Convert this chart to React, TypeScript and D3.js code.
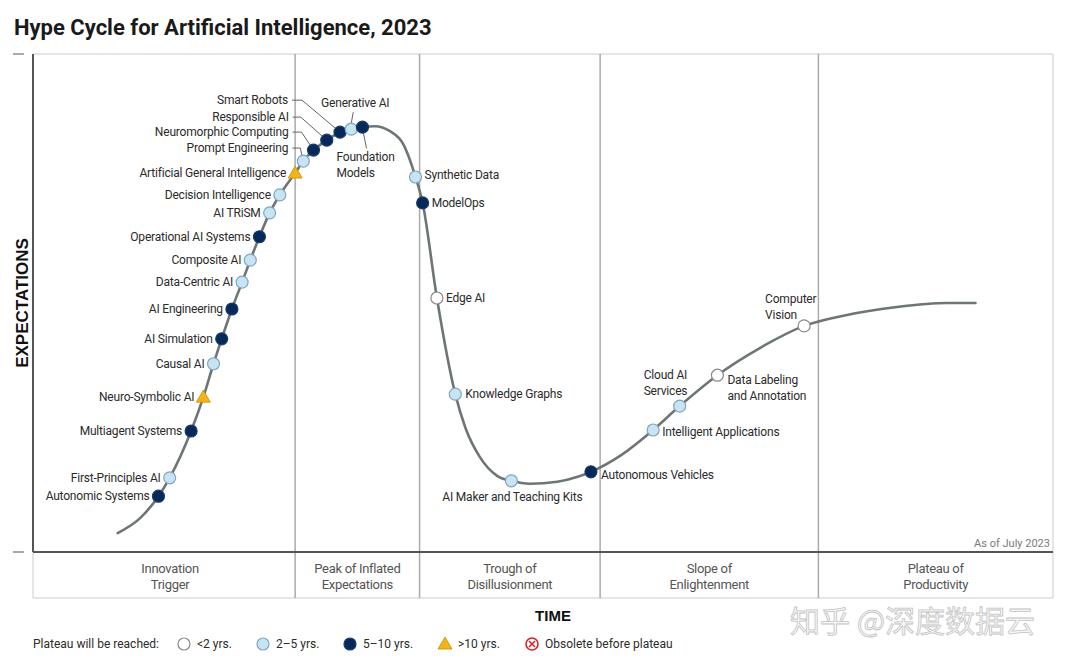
import React from "react";
import * as d3 from "d3";

// ---------- DATA ----------
const title = "Hype Cycle for Artificial Intelligence, 2023";

// phases: label lines and their end on the time axis (0-100)
const phaseNames = [
  ["Innovation", "Trigger"],
  ["Peak of Inflated", "Expectations"],
  ["Trough of", "Disillusionment"],
  ["Slope of", "Enlightenment"],
  ["Plateau of", "Productivity"],
];
const phaseEnds = [25.7, 37.9, 55.6, 77.0, 100];

// technologies: name, time (0-100), expectation (0-100), horizon
type Horizon = "lt2" | "2to5" | "5to10" | "gt10";
const techNames = [
  "Autonomic Systems", "First-Principles AI", "Multiagent Systems", "Neuro-Symbolic AI",
  "Causal AI", "AI Simulation", "AI Engineering", "Data-Centric AI", "Composite AI",
  "Operational AI Systems", "AI TRiSM", "Decision Intelligence",
  "Artificial General Intelligence", "Prompt Engineering", "Neuromorphic Computing",
  "Responsible AI", "Smart Robots", "Generative AI", "Foundation Models",
  "Synthetic Data", "ModelOps", "Edge AI", "Knowledge Graphs",
  "AI Maker and Teaching Kits", "Autonomous Vehicles", "Intelligent Applications",
  "Cloud AI Services", "Data Labeling and Annotation", "Computer Vision",
];
const techTime = [
  12.3, 13.4, 15.5, 16.7, 17.7, 18.5, 19.5, 20.5, 21.3, 22.2, 23.2, 24.2,
  25.7, 26.5, 27.5, 28.8, 30.1, 31.2, 32.3,
  37.5, 38.2, 39.6, 41.4, 46.9, 54.7, 60.8, 63.4, 67.1, 75.6,
];
const techExpect = [
  11.2, 14.9, 24.3, 31.1, 37.8, 42.8, 48.8, 54.2, 58.6, 63.3, 68.1, 71.7,
  76.1, 78.5, 80.7, 82.7, 84.3, 84.9, 85.3,
  75.3, 70.1, 51.0, 31.7, 14.3, 16.1, 24.5, 29.3, 35.5, 45.4,
];
const techHorizon: Horizon[] = [
  "5to10", "2to5", "5to10", "gt10", "2to5", "5to10", "5to10", "2to5", "2to5",
  "5to10", "2to5", "2to5", "gt10", "2to5", "5to10", "5to10", "5to10", "2to5", "5to10",
  "2to5", "5to10", "lt2", "2to5", "2to5", "5to10", "2to5", "2to5", "lt2", "lt2",
];

// extra points of the curve between the technologies
const curveExtraTime = [8.3, 10.5, 33.5, 35.0, 36.3, 42.4, 43.8, 45.5, 48.7, 51.4, 53.4, 57.7, 71.3, 79.8, 84.7, 89.6, 92.4];
const curveExtraExpect = [3.8, 6.8, 85.5, 84.5, 81.9, 24.9, 19.1, 15.3, 13.7, 14.1, 15.1, 19.5, 41.0, 47.6, 49.2, 50.0, 50.0];

const legendTitle = "Plateau will be reached:";
const legendKeys: (Horizon | "obsolete")[] = ["lt2", "2to5", "5to10", "gt10", "obsolete"];
const legendLabels = ["<2 yrs.", "2\u20135 yrs.", "5\u201310 yrs.", ">10 yrs.", "Obsolete before plateau"];

const asOf = "As of July 2023";
const yAxisTitle = "EXPECTATIONS";
const xAxisTitle = "TIME";
const watermark = "知乎 @深度数据云";

// ---------- LAYOUT / STYLE ----------
const W = 1080, H = 665;
const plot = { left: 33, right: 1053, top: 54, bottom: 552, band: 598 };
const FONT = "Roboto, 'Noto Sans', sans-serif";

const colors = {
  curve: "#6e7577",
  axis: "#555",
  divider: "#ababab",
  border: "#dcdcdc",
  label: "#2b2b2b",
  phase: "#555",
};

const markerStyle: Record<string, { fill: string; stroke: string }> = {
  lt2: { fill: "#ffffff", stroke: "#8a8a8a" },
  "2to5": { fill: "#c8e4f3", stroke: "#7fa6c2" },
  "5to10": { fill: "#06295a", stroke: "#1b3a6b" },
  gt10: { fill: "#f2b41c", stroke: "#c68f00" },
};

type LabelLayout = {
  anchor?: "start" | "middle" | "end";
  dx: number;
  dy: number;
  lines?: string[];
  elbow?: [number, number];
  leaderFrom?: [number, number];
  leaderTo?: [number, number];
};
const leftLabel: LabelLayout = { anchor: "end", dx: -9, dy: 0 };
const rightLabel: LabelLayout = { anchor: "start", dx: 9, dy: 0 };
const labelLayout: Record<string, LabelLayout> = {
  "Prompt Engineering": { anchor: "end", dx: -15, dy: -13, elbow: [-3, -13] },
  "Neuromorphic Computing": { anchor: "end", dx: -25, dy: -18, elbow: [-12, -18] },
  "Responsible AI": { anchor: "end", dx: -38, dy: -23, elbow: [-26, -23] },
  "Smart Robots": { anchor: "end", dx: -52, dy: -32, elbow: [-38, -32] },
  "Generative AI": { anchor: "middle", dx: 4, dy: -26, leaderFrom: [2, -17], leaderTo: [0, -6] },
  "Foundation Models": { anchor: "start", dx: -26, dy: 30, lines: ["Foundation", "Models"], leaderFrom: [1, 6], leaderTo: [4, 21] },
  "Synthetic Data": { anchor: "start", dx: 9, dy: -2 },
  "Knowledge Graphs": { anchor: "start", dx: 10, dy: 0 },
  "AI Maker and Teaching Kits": { anchor: "middle", dx: 1, dy: 16 },
  "Autonomous Vehicles": { anchor: "start", dx: 10, dy: 3 },
  "Intelligent Applications": { anchor: "start", dx: 9, dy: 2 },
  "Cloud AI Services": { anchor: "start", dx: -36, dy: -31, lines: ["Cloud AI", "Services"] },
  "Data Labeling and Annotation": { anchor: "start", dx: 10, dy: 5, lines: ["Data Labeling", "and Annotation"] },
  "Computer Vision": { anchor: "start", dx: -39, dy: -27, lines: ["Computer", "Vision"] },
};
const legendSymbolX = [184, 263, 350, 445, 532];

function Marker({ x, y, kind }: { x: number; y: number; kind: string }) {
  if (kind === "gt10") {
    const s = 7;
    const pts = `${x},${y - s} ${x + s},${y + s * 0.72} ${x - s},${y + s * 0.72}`;
    return <polygon points={pts} fill={markerStyle.gt10.fill} stroke={markerStyle.gt10.stroke} strokeWidth={0.8} />;
  }
  if (kind === "obsolete") {
    const r = 6, k = 3;
    return (
      <g>
        <circle cx={x} cy={y} r={r} fill="#fff" stroke="#d8232a" strokeWidth={1.6} />
        <line x1={x - k} y1={y - k} x2={x + k} y2={y + k} stroke="#d8232a" strokeWidth={1.6} />
        <line x1={x - k} y1={y + k} x2={x + k} y2={y - k} stroke="#d8232a" strokeWidth={1.6} />
      </g>
    );
  }
  const st = markerStyle[kind];
  return <circle cx={x} cy={y} r={6} fill={st.fill} stroke={st.stroke} strokeWidth={1.2} />;
}

export default function App() {
  const x = d3.scaleLinear().domain([0, 100]).range([plot.left, plot.right]);
  const y = d3.scaleLinear().domain([0, 100]).range([plot.bottom, plot.top]);

  const techs = techNames.map((name, i) => ({
    name,
    t: techTime[i],
    e: techExpect[i],
    h: techHorizon[i],
  }));

  const knots: [number, number][] = [
    ...techs.map((d) => [d.t, d.e] as [number, number]),
    ...curveExtraTime.map((t, i) => [t, curveExtraExpect[i]] as [number, number]),
  ].sort((a, b) => a[0] - b[0]);

  const line = d3
    .line<[number, number]>()
    .x((d) => x(d[0]))
    .y((d) => y(d[1]))
    .curve(d3.curveMonotoneX);

  const bounds = [0, ...phaseEnds];
  const innovationIdx = techs.findIndex((d) => d.name === "Artificial General Intelligence");

  return (
    <div style={{ position: "absolute", left: 0, top: 0 }}>
      <svg width={W} height={H} style={{ display: "block", background: "#fff" }} fontFamily={FONT}>
        {/* title */}
        <text x={14} y={35} fontSize={22} fontWeight={700} fill="#1a1a1a" fontFamily={FONT}>
          {title}
        </text>

        {/* frame */}
        <line x1={plot.left} x2={plot.right} y1={plot.top} y2={plot.top} stroke={colors.border} strokeWidth={1.5} />
        <line x1={plot.right} x2={plot.right} y1={plot.top} y2={plot.band} stroke={colors.border} strokeWidth={1.5} />
        <line x1={plot.left} x2={plot.right} y1={plot.band} y2={plot.band} stroke={colors.border} strokeWidth={1.5} />
        <line x1={plot.left} x2={plot.left} y1={plot.bottom} y2={plot.band} stroke={colors.border} strokeWidth={1.5} />

        {/* phase dividers */}
        {phaseEnds.slice(0, -1).map((t, i) => (
          <line key={i} x1={x(t)} x2={x(t)} y1={plot.top} y2={plot.band} stroke={colors.divider} strokeWidth={1.5} />
        ))}

        {/* axes */}
        <line x1={plot.left} x2={plot.left} y1={plot.top} y2={plot.bottom} stroke={colors.axis} strokeWidth={2} />
        <line x1={plot.left} x2={plot.right} y1={plot.bottom} y2={plot.bottom} stroke={colors.axis} strokeWidth={2} />
        {y.domain().map((v, i) => (
          <line key={i} x1={13} x2={24} y1={y(v)} y2={y(v)} stroke="#aaa" strokeWidth={2} />
        ))}

        {/* phase labels */}
        {phaseNames.map((lines, i) => {
          const cx = (x(bounds[i]) + x(bounds[i + 1])) / 2 + (i === 0 ? 6 : 0);
          return (
            <text key={i} x={cx} textAnchor="middle" fontSize={13} fill={colors.phase} letterSpacing={-0.3}>
              {lines.map((l, j) => (
                <tspan key={j} x={cx} y={573 + j * 16}>
                  {l}
                </tspan>
              ))}
            </text>
          );
        })}

        {/* as of */}
        <text x={plot.right - 3} y={547} textAnchor="end" fontSize={11} fill="#7a7a7a">
          {asOf}
        </text>

        {/* curve */}
        <path d={line(knots) || ""} fill="none" stroke={colors.curve} strokeWidth={2.6} strokeLinecap="round" />

        {/* leaders */}
        {techs.map((d) => {
          const L = labelLayout[d.name];
          if (!L) return null;
          const mx = x(d.t), my = y(d.e);
          if (L.elbow) {
            const lx = mx + L.dx + 4;
            const ly = my + L.dy;
            const ex = mx + L.elbow[0];
            const ey = my + L.elbow[1];
            const ang = Math.atan2(ey - my, ex - mx);
            const tx = mx + Math.cos(ang) * 6;
            const ty = my + Math.sin(ang) * 6;
            return <polyline key={d.name} points={`${lx},${ly} ${ex},${ey} ${tx},${ty}`} fill="none" stroke="#666" strokeWidth={1} />;
          }
          if (L.leaderFrom && L.leaderTo) {
            return (
              <line key={d.name} x1={mx + L.leaderFrom[0]} y1={my + L.leaderFrom[1]} x2={mx + L.leaderTo[0]} y2={my + L.leaderTo[1]} stroke="#666" strokeWidth={1} />
            );
          }
          return null;
        })}

        {/* markers */}
        {techs.map((d) => (
          <Marker key={d.name} x={x(d.t)} y={y(d.e)} kind={d.h} />
        ))}

        {/* labels */}
        {techs.map((d, i) => {
          const L = labelLayout[d.name] || (i <= innovationIdx ? leftLabel : rightLabel);
          const mx = x(d.t) + L.dx;
          const my = y(d.e) + L.dy;
          const lines = L.lines || [d.name];
          return (
            <text key={d.name} x={mx} textAnchor={L.anchor || "start"} fontSize={12} fill={colors.label} letterSpacing={-0.2}>
              {lines.map((l, j) => (
                <tspan key={j} x={mx} y={my + j * 16} dy="0.35em">
                  {l}
                </tspan>
              ))}
            </text>
          );
        })}

        {/* axis titles */}
        <text
          transform={`translate(28,${(plot.top + plot.bottom) / 2}) rotate(-90)`}
          textAnchor="middle"
          fontSize={17}
          fontWeight={700}
          fill="#111"
          fontFamily="'Liberation Sans', Arial, sans-serif"
        >
          {yAxisTitle}
        </text>
        <text x={553} y={621} textAnchor="middle" fontSize={15} fontWeight={700} fill="#111" fontFamily="'Liberation Sans', Arial, sans-serif">
          {xAxisTitle}
        </text>

        {/* watermark */}
        <text x={790} y={632} fontSize={30} fill="#f7f7f7" stroke="#c4c4c4" strokeWidth={0.8} fontFamily="'Noto Sans CJK SC', sans-serif">
          {watermark}
        </text>

        {/* legend */}
        <text x={33} y={644} dy="0.35em" fontSize={12} fill={colors.label}>
          {legendTitle}
        </text>
        {legendKeys.map((k, i) => (
          <g key={k}>
            <Marker x={legendSymbolX[i]} y={644} kind={k} />
            <text x={legendSymbolX[i] + 13} y={644} dy="0.35em" fontSize={12} fill={colors.label}>
              {legendLabels[i]}
            </text>
          </g>
        ))}
      </svg>
    </div>
  );
}
